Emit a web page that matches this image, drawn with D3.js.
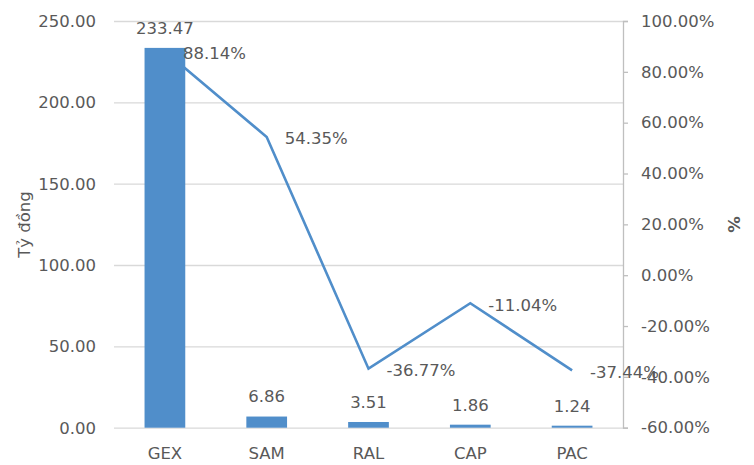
<!DOCTYPE html>
<html>
<head>
<meta charset="utf-8">
<script src="https://cdn.jsdelivr.net/npm/d3@7"></script>
<style>
    body { margin: 0; background: #fff; }
    text { font-family: 'DejaVu Sans', Verdana, sans-serif; fill: #595959; }
</style>
</head>
<body>
<div id="chart"></div>
<script>
const categories = ['GEX', 'SAM', 'RAL', 'CAP', 'PAC'];
const values = [233.47, 6.86, 3.51, 1.86, 1.24];
const changes = [0.8814, 0.5435, -0.3677, -0.1104, -0.3744];
const leftTicks = [0, 50, 100, 150, 200, 250];
const rightTicks = [-0.6, -0.4, -0.2, 0, 0.2, 0.4, 0.6, 0.8, 1.0];

const WIDTH = 754;
const HEIGHT = 465;
const BLUE = '#508eca';
const FONT_SIZE = '16.5px';

const plot = { left: 114, right: 623, top: 21, bottom: 427.7 };

// Plain hyphen for negatives, like the source
const locale = d3.formatLocale({ decimal: '.', thousands: ',', grouping: [3], currency: ['', ''], minus: '-' });
const fmtNum = locale.format('.2f');
const fmtPct = locale.format('.2%');

const svg = d3.select('#chart').append('svg').attr('width', WIDTH).attr('height', HEIGHT);

const xScale = d3.scaleBand().domain(categories).range([plot.left, plot.right]).padding(0);
const yLeft = d3.scaleLinear().domain([0, 250]).range([plot.bottom, plot.top]);
const yRight = d3.scaleLinear().domain([-0.6, 1.0]).range([plot.bottom, plot.top]);

const barWidth = xScale.bandwidth() * 0.4;
const center = (c) => xScale(c) + xScale.bandwidth() / 2;

// Horizontal grid lines from the left axis
svg.append('g')
    .attr('transform', `translate(${plot.left}, 0)`)
    .call(d3.axisLeft(yLeft).tickValues(leftTicks).tickSize(-(plot.right - plot.left)).tickFormat(''))
    .call((g) => g.select('.domain').remove())
    .call((g) => g.selectAll('line').attr('stroke', '#d9d9d9').attr('stroke-width', 1.3));

// Left tick labels
svg.append('g')
    .selectAll()
    .data(leftTicks)
    .enter()
    .append('text')
    .attr('x', 96)
    .attr('y', (d) => yLeft(d))
    .attr('dy', '0.36em')
    .attr('text-anchor', 'end')
    .style('font-size', FONT_SIZE)
    .text((d) => fmtNum(d));

// Right axis
const rightAxis = svg.append('g')
    .attr('transform', `translate(${plot.right}, 0)`)
    .call(d3.axisRight(yRight).tickValues(rightTicks).tickSize(5).tickPadding(13).tickFormat(fmtPct));
rightAxis.select('.domain').attr('stroke', '#bfbfbf').attr('stroke-width', 1.3);
rightAxis.selectAll('line').attr('stroke', '#bfbfbf').attr('stroke-width', 1.3);
rightAxis.selectAll('text')
    .attr('fill', '#595959')
    .style('font-size', FONT_SIZE)
    .style('font-family', "'DejaVu Sans', Verdana, sans-serif");

// Line for % change (drawn under the bars)
const line = d3.line()
    .x((d, i) => center(categories[i]))
    .y((d) => yRight(d));

svg.append('path')
    .datum(changes)
    .attr('d', line)
    .attr('fill', 'none')
    .attr('stroke', BLUE)
    .attr('stroke-width', 2.6)
    .attr('stroke-linejoin', 'miter');

// Bars
svg.append('g')
    .selectAll()
    .data(values)
    .enter()
    .append('rect')
    .attr('x', (d, i) => center(categories[i]) - barWidth / 2)
    .attr('y', (d) => yLeft(d))
    .attr('width', barWidth)
    .attr('height', (d) => yLeft(0) - yLeft(d))
    .attr('fill', BLUE);

// Bar value labels
svg.append('g')
    .selectAll()
    .data(values)
    .enter()
    .append('text')
    .attr('x', (d, i) => center(categories[i]))
    .attr('y', (d) => yLeft(d) - 20)
    .attr('dy', '0.36em')
    .attr('text-anchor', 'middle')
    .style('font-size', FONT_SIZE)
    .text((d) => fmtNum(d));

// Line value labels, to the right of each point
svg.append('g')
    .selectAll()
    .data(changes)
    .enter()
    .append('text')
    .attr('x', (d, i) => center(categories[i]) + 18)
    .attr('y', (d) => yRight(d) + 1.5)
    .attr('dy', '0.36em')
    .style('font-size', FONT_SIZE)
    .text((d) => fmtPct(d));

// Category labels
svg.append('g')
    .selectAll()
    .data(categories)
    .enter()
    .append('text')
    .attr('x', (c) => center(c))
    .attr('y', 453)
    .attr('dy', '0.36em')
    .attr('text-anchor', 'middle')
    .style('font-size', FONT_SIZE)
    .text((c) => c);

// Axis titles
svg.append('text')
    .attr('transform', 'translate(24, 224.5) rotate(-90)')
    .attr('dy', '0.36em')
    .attr('text-anchor', 'middle')
    .style('font-size', FONT_SIZE)
    .text('Tỷ đồng');

svg.append('text')
    .attr('transform', 'translate(734, 224.5) rotate(-90)')
    .attr('dy', '0.36em')
    .attr('text-anchor', 'middle')
    .style('font-size', FONT_SIZE)
    .style('font-weight', 'bold')
    .text('%');
</script>
</body>
</html>
